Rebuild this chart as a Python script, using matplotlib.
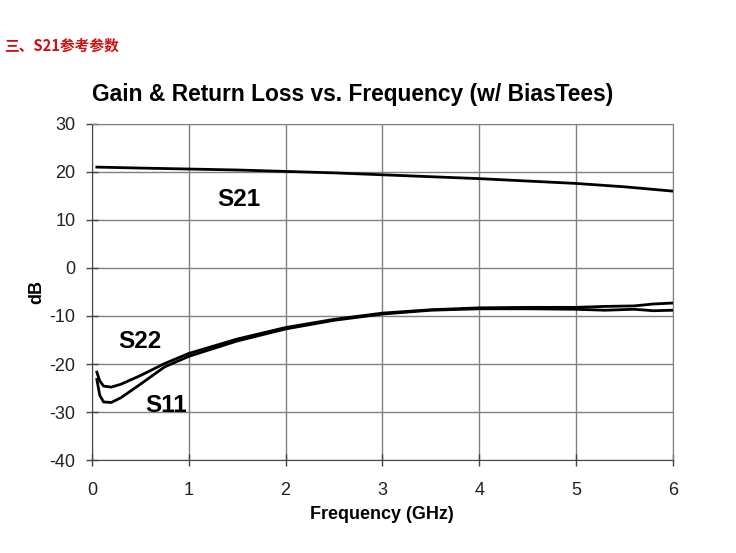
import matplotlib
matplotlib.use("Agg")
import matplotlib.pyplot as plt
import numpy as np

# S21 gain (dB) and return losses
freq_s21 = [0.05, 0.5, 1.0, 1.5, 2.0, 2.5, 3.0, 3.5, 4.0, 4.5, 5.0, 5.5, 6.0]
s21 = [21.0, 20.8, 20.6, 20.4, 20.1, 19.8, 19.4, 19.0, 18.6, 18.1, 17.6, 16.9, 16.0]

freq_s = [0.05, 0.08, 0.12, 0.2, 0.3, 0.5, 0.75, 1.0, 1.5, 2.0, 2.5, 3.0, 3.5, 4.0,
          4.5, 5.0, 5.3, 5.6, 5.8, 6.0]
s22 = [-21.7, -23.5, -24.6, -24.8, -24.2, -22.4, -19.9, -17.8, -14.8, -12.4, -10.7,
       -9.4, -8.7, -8.3, -8.2, -8.2, -8.0, -7.9, -7.5, -7.3]
s11 = [-23.2, -26.5, -27.9, -28.0, -27.0, -24.2, -20.6, -18.4, -15.2, -12.7, -10.9,
       -9.6, -8.8, -8.5, -8.5, -8.6, -8.8, -8.6, -8.9, -8.8]

xticks = [0, 1, 2, 3, 4, 5, 6]
yticks = [-40, -30, -20, -10, 0, 10, 20, 30]

plt.rcParams['font.family'] = ['Liberation Sans', 'DejaVu Sans']
plt.rcParams['axes.unicode_minus'] = False

fig = plt.figure(figsize=(7.36, 5.53), dpi=100)
ax = fig.add_axes([0.125, 0.168, 0.789, 0.608])

ax.plot(freq_s21, s21, color='black', lw=2)
ax.plot(freq_s, s22, color='black', lw=2)
ax.plot(freq_s, s11, color='black', lw=2)

ax.set_xlim(0, 6)
ax.set_ylim(-40, 30)
ax.set_xticks(xticks)
ax.set_yticks(yticks)
ax.grid(True, color='#808080', lw=1)
ax.set_axisbelow(True)
for side in ['top', 'right']:
    ax.spines[side].set_color('#808080')
for side in ['left', 'bottom']:
    ax.spines[side].set_color('#444444')
ax.tick_params(direction='inout', length=8, width=1, color='#444444',
               labelsize=13, labelcolor='#222222')
ax.tick_params(axis='x', pad=12)
ax.tick_params(axis='y', pad=8)

ax.text(1.52, 14.2, 'S21', fontsize=17.5, fontweight='bold', ha='center', va='center')
ax.text(0.50, -15.4, 'S22', fontsize=17.5, fontweight='bold', ha='center', va='center')
ax.text(0.77, -28.6, 'S11', fontsize=17.5, fontweight='bold', ha='center', va='center')

ax.set_xlabel('Frequency (GHz)', fontsize=13, fontweight='bold', labelpad=5)
ax.set_ylabel('dB', fontsize=13, fontweight='bold', labelpad=3)
fig.text(0.125, 0.829, 'Gain & Return Loss vs. Frequency (w/ BiasTees)',
         fontsize=16.4, fontweight='bold', ha='left', va='center')

fig.text(0.006, 0.918, '三、S21参考参数', fontsize=10.6, fontweight='bold', color='#cc1111',
         family=['Noto Sans CJK SC', 'DejaVu Sans'], ha='left', va='center')

fig.savefig('out.png', dpi=100, facecolor='white')
